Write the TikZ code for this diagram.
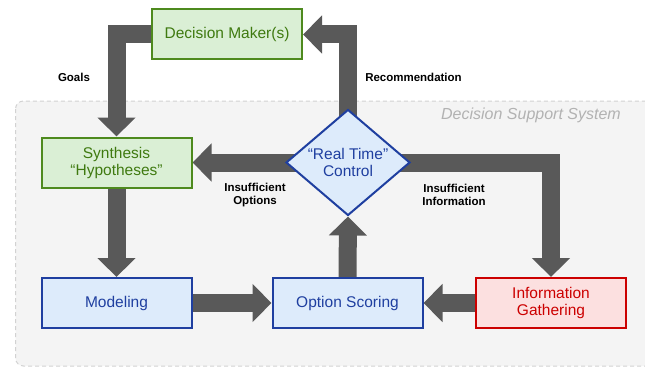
\documentclass[tikz,border=0pt]{standalone}
\usepackage{fontspec}
\setmainfont{Liberation Sans}
\usetikzlibrary{shapes.geometric,arrows.meta}
\pgfdeclarelayer{back}
\pgfdeclarelayer{background}
\pgfsetlayers{back,background,main}

\definecolor{dmgreen}{HTML}{4E8A1E}
\definecolor{dmgreenfill}{HTML}{DAEFD5}
\definecolor{dmgreentext}{HTML}{3F7A10}
\definecolor{dssblue}{HTML}{1F3FA0}
\definecolor{dssbluefill}{HTML}{DDEBFB}
\definecolor{infored}{HTML}{CC0000}
\definecolor{inforedfill}{HTML}{FCE0E0}
\definecolor{flowgray}{HTML}{595959}
\definecolor{framegray}{HTML}{D2D2D2}
\definecolor{framefill}{HTML}{F4F4F4}

\tikzset{
  box/.style={draw, line width=2pt, minimum width=150pt, minimum height=50pt,
    inner sep=0pt, align=center, font=\fontsize{15.5}{17}\selectfont},
  greenbox/.style={box, draw=dmgreen, fill=dmgreenfill, text=dmgreentext},
  bluebox/.style={box, draw=dssblue, fill=dssbluefill, text=dssblue},
  redbox/.style={box, draw=infored, fill=inforedfill, text=infored},
  ctrlshape/.style={diamond, aspect=1.17, draw=dssblue, line width=2pt,
    fill=dssbluefill, text=dssblue, minimum width=124pt, minimum height=106pt,
    inner sep=0pt, align=center, font=\fontsize{15.5}{17}\selectfont},
  flow/.style={draw=flowgray, line width=18pt, -{Triangle[length=19pt,width=37pt]}},
  lbl/.style={align=center, inner sep=0pt, font=\fontsize{11.5}{13}\selectfont\bfseries},
  dssframe/.style={draw=framegray, fill=framefill, line width=1pt,
    dash pattern=on 4pt off 3pt, rounded corners=8pt},
  dsslabel/.style={inner sep=0pt, text=black!30, font=\fontsize{16}{18}\selectfont\itshape}
}

\begin{document}
\begin{tikzpicture}[x=1pt,y=-1pt]
  \useasboundingbox (0,0) rectangle (645,369);
  \begin{pgfonlayer}{back}
    \draw[dssframe] (15.5,101) rectangle (670,366);
  \end{pgfonlayer}
  \node[dsslabel, anchor=east] (dss) at (621,115) {Decision Support System};

  % boxes
  \node[greenbox] (dm) at (227,34.5) {Decision Maker(s)};
  \node[greenbox] (syn) at (116.5,162.5) {Synthesis\\“Hypotheses”};
  \node[ctrlshape] (ctrl) at (348,162.5) {“Real Time”\\Control};
  \node[bluebox] (mod) at (116.5,303) {Modeling};
  \node[bluebox] (opt) at (347.5,303) {Option Scoring};
  \node[redbox] (info) at (551,303) {Information\\Gathering};

  % labels
  \node[lbl] (goals) at (74,77) {Goals};
  \node[lbl] (rec) at (413.5,77) {Recommendation};
  \node[lbl] (insopt) at (255,195) {Insufficient\\Options};
  \node[lbl] (insinf) at (454,195) {Insufficient\\Information};

  % flows
  \begin{pgfonlayer}{background}
    \draw[flow] (dm.west) -| (syn.north);
    \draw[flow] (ctrl.center) |- (dm.east);
    \draw[flow] (ctrl.center) -- (syn.east);
    \draw[flow] (ctrl.center) -| (info.north);
    \draw[flow] (syn.south) -- (mod.north);
    \draw[flow] (mod.east) -- (opt.west);
    \draw[flow] (opt.north) -- (ctrl.south);
    \draw[flow] (info.west) -- (opt.east);
  \end{pgfonlayer}
\end{tikzpicture}
\end{document}
